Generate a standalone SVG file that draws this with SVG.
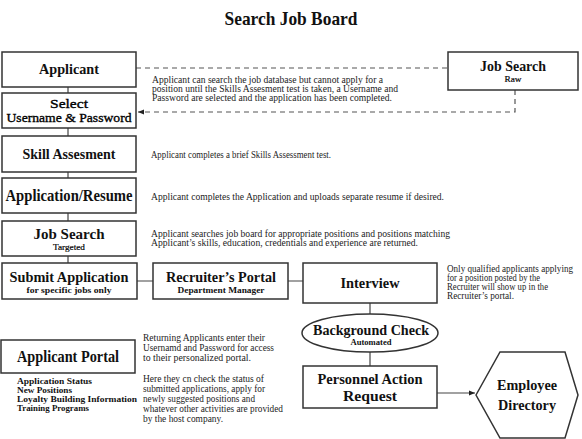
<svg xmlns="http://www.w3.org/2000/svg" width="582" height="439" viewBox="0 0 582 439">
<defs>
<style>
.bx{fill:#fff;stroke:#333;stroke-width:1.5}
.ln{fill:none;stroke:#444;stroke-width:1.2}
.ds{fill:none;stroke:#555;stroke-width:1.2;stroke-dasharray:5 4}
.h{font-family:"Liberation Serif",serif;font-weight:bold;fill:#111;text-anchor:middle}
.n{font-family:"Liberation Serif",serif;fill:#000;stroke:#000;stroke-width:0.35;text-anchor:middle}
.s{font-family:"Liberation Serif",serif;font-weight:bold;fill:#111;text-anchor:middle;font-size:9px}
.t{font-family:"Liberation Serif",serif;fill:#222;font-size:9.5px}
.l{font-family:"Liberation Serif",serif;font-weight:bold;fill:#111;font-size:8.6px}
</style>
<marker id="ah" viewBox="0 0 10 10" refX="10" refY="5" markerWidth="6" markerHeight="6" orient="auto-start-reverse" markerUnits="userSpaceOnUse">
<path d="M0,1 L10,5 L0,9 z" fill="#222"/>
</marker>
</defs>
<rect width="582" height="439" fill="#fff"/>
<text class="h" x="291" y="25" font-size="19" textLength="133" lengthAdjust="spacingAndGlyphs">Search Job Board</text>

<g id="connectors">
<path class="ln" d="M68,87V93 M68,128V136 M68,172V178 M68,213V221 M68,256V263"/>
<path class="ln" d="M137,281H153 M288,281H303"/>
<path class="ln" d="M370,303V314 M370,352V366"/>
<path class="ln" d="M437,393H475" marker-end="url(#ah)"/>
<path class="ds" d="M136,68H448"/>
<path class="ds" d="M515,90V112H138" marker-end="url(#ah)"/>
</g>

<g id="applicant">
<rect class="bx" x="2" y="52" width="134" height="35"/>
<text class="h" x="69" y="74" font-size="15" textLength="60" lengthAdjust="spacingAndGlyphs">Applicant</text>
</g>
<g id="select">
<rect class="bx" x="2" y="93" width="134" height="35"/>
<text class="n" x="69" y="108" font-size="13" textLength="38" lengthAdjust="spacingAndGlyphs">Select</text>
<text class="n" x="69" y="122" font-size="13" textLength="125" lengthAdjust="spacingAndGlyphs">Username &amp; Password</text>
</g>
<g id="skill">
<rect class="bx" x="2" y="136" width="134" height="36"/>
<text class="h" x="69" y="159" font-size="15" textLength="93" lengthAdjust="spacingAndGlyphs">Skill Assesment</text>
</g>
<g id="application">
<rect class="bx" x="2" y="178" width="134" height="35"/>
<text class="h" x="69" y="201" font-size="16" textLength="127" lengthAdjust="spacingAndGlyphs">Application/Resume</text>
</g>
<g id="jobsearch-targeted">
<rect class="bx" x="2" y="221" width="134" height="35"/>
<text class="h" x="69" y="239" font-size="15" textLength="71" lengthAdjust="spacingAndGlyphs">Job Search</text>
<text class="n" x="69" y="250" font-size="9" style="stroke-width:0.2" textLength="32" lengthAdjust="spacingAndGlyphs">Targeted</text>
</g>
<g id="submit">
<rect class="bx" x="2" y="263" width="135" height="36"/>
<text class="h" x="69" y="282" font-size="15" textLength="119" lengthAdjust="spacingAndGlyphs">Submit Application</text>
<text class="s" x="69" y="293" textLength="85" lengthAdjust="spacingAndGlyphs">for specific jobs only</text>
</g>
<g id="recruiter">
<rect class="bx" x="153" y="263" width="135" height="36"/>
<text class="h" x="221" y="282" font-size="15" textLength="110" lengthAdjust="spacingAndGlyphs">Recruiter’s Portal</text>
<text class="s" x="221" y="293" textLength="87" lengthAdjust="spacingAndGlyphs">Department Manager</text>
</g>
<g id="interview">
<rect class="bx" x="303" y="263" width="134" height="40"/>
<text class="h" x="370" y="288" font-size="15" textLength="59" lengthAdjust="spacingAndGlyphs">Interview</text>
</g>
<g id="background">
<ellipse class="bx" cx="370" cy="333" rx="68" ry="19"/>
<text class="h" x="371" y="335" font-size="14" textLength="116" lengthAdjust="spacingAndGlyphs">Background Check</text>
<text class="s" x="371" y="345" font-size="8" textLength="41" lengthAdjust="spacingAndGlyphs">Automated</text>
</g>
<g id="par">
<rect class="bx" x="303" y="366" width="134" height="42"/>
<text class="h" x="370" y="384" font-size="14" textLength="105" lengthAdjust="spacingAndGlyphs">Personnel Action</text>
<text class="h" x="370" y="401" font-size="14" textLength="54" lengthAdjust="spacingAndGlyphs">Request</text>
</g>
<g id="employee">
<polygon class="bx" points="476,395 500,352 565,352 578,395 565,438 500,438"/>
<text class="h" x="527" y="390" font-size="15" textLength="60" lengthAdjust="spacingAndGlyphs">Employee</text>
<text class="h" x="527" y="410" font-size="15" textLength="58" lengthAdjust="spacingAndGlyphs">Directory</text>
</g>
<g id="jobsearch-raw">
<rect class="bx" x="448" y="52" width="130" height="38"/>
<text class="h" x="513" y="71" font-size="15" textLength="66" lengthAdjust="spacingAndGlyphs">Job Search</text>
<text class="n" x="513" y="82" font-size="9" style="stroke-width:0.2" textLength="17" lengthAdjust="spacingAndGlyphs">Raw</text>
</g>
<g id="applicant-portal">
<rect class="bx" x="1" y="340" width="134" height="33"/>
<text class="h" x="68" y="362" font-size="16" textLength="102" lengthAdjust="spacingAndGlyphs">Applicant Portal</text>
<text class="l" x="17" y="384" textLength="75" lengthAdjust="spacingAndGlyphs">Application Status</text>
<text class="l" x="17" y="393" textLength="55" lengthAdjust="spacingAndGlyphs">New Positions</text>
<text class="l" x="17" y="402" textLength="120" lengthAdjust="spacingAndGlyphs">Loyalty Building Information</text>
<text class="l" x="17" y="411" textLength="72" lengthAdjust="spacingAndGlyphs">Training Programs</text>
</g>

<g id="notes">
<text class="t" x="152" y="83" textLength="231" lengthAdjust="spacingAndGlyphs">Applicant can search the job database but cannot apply for a</text>
<text class="t" x="152" y="92" textLength="246" lengthAdjust="spacingAndGlyphs">position until the Skills Assesment test is taken, a Username and</text>
<text class="t" x="152" y="101" textLength="240" lengthAdjust="spacingAndGlyphs">Password are selected and the application has been completed.</text>
<text class="t" x="151" y="158" textLength="180" lengthAdjust="spacingAndGlyphs">Applicant completes a brief Skills Assessment test.</text>
<text class="t" x="151" y="200" textLength="293" lengthAdjust="spacingAndGlyphs">Applicant completes the Application and uploads separate resume if desired.</text>
<text class="t" x="151" y="237" textLength="299" lengthAdjust="spacingAndGlyphs">Applicant searches job board for appropriate positions and positions matching</text>
<text class="t" x="151" y="246" textLength="267" lengthAdjust="spacingAndGlyphs">Applicant’s skills, education, credentials and experience are returned.</text>
<text class="t" x="447" y="272" textLength="126" lengthAdjust="spacingAndGlyphs">Only qualified applicants applying</text>
<text class="t" x="447" y="281" textLength="93" lengthAdjust="spacingAndGlyphs">for a position posted by the</text>
<text class="t" x="447" y="290" textLength="101" lengthAdjust="spacingAndGlyphs">Recruiter will show up in the</text>
<text class="t" x="447" y="299" textLength="67" lengthAdjust="spacingAndGlyphs">Recruiter’s portal.</text>
<text class="t" x="143" y="341" textLength="122" lengthAdjust="spacingAndGlyphs">Returning Applicants enter their</text>
<text class="t" x="143" y="351" textLength="131" lengthAdjust="spacingAndGlyphs">Usernamd and Password for access</text>
<text class="t" x="143" y="361" textLength="108" lengthAdjust="spacingAndGlyphs">to their personalized portal.</text>
<text class="t" x="143" y="382" textLength="121" lengthAdjust="spacingAndGlyphs">Here they cn check the status of</text>
<text class="t" x="143" y="392" textLength="122" lengthAdjust="spacingAndGlyphs">submitted applications, apply for</text>
<text class="t" x="143" y="402" textLength="112" lengthAdjust="spacingAndGlyphs">newly suggested positions and</text>
<text class="t" x="143" y="412" textLength="140" lengthAdjust="spacingAndGlyphs">whatever other activities are provided</text>
<text class="t" x="143" y="422" textLength="80" lengthAdjust="spacingAndGlyphs">by the host company.</text>
</g>
</svg>
